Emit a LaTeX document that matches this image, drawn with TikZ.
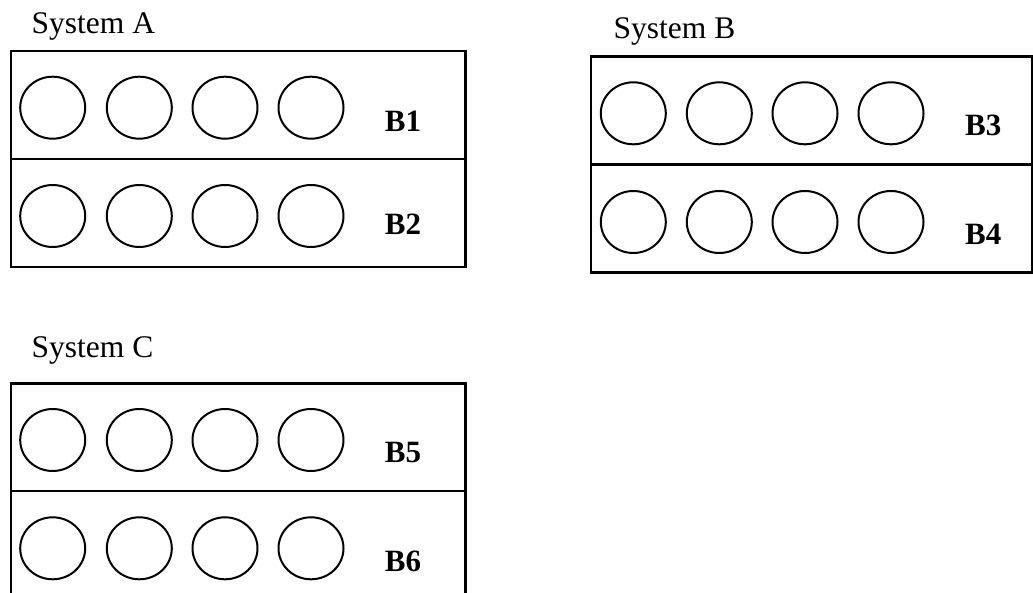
\documentclass[tikz,border=0pt]{standalone}
\usepackage{fontspec}
\setmainfont{Liberation Serif}
\usetikzlibrary{shapes.geometric}
\begin{document}
\begin{tikzpicture}[x=1pt,y=-1pt,
  frame/.style={draw=black,line width=2.3pt},
  slot/.style={ellipse,draw=black,line width=2pt,minimum width=65pt,minimum height=62pt,inner sep=0pt},
  title/.style={anchor=base west,inner sep=0pt,font=\fontsize{31.5}{36}\selectfont},
  blabel/.style={anchor=base,inner sep=0pt,font=\fontsize{31}{36}\selectfont\bfseries}]
\useasboundingbox (0,0) rectangle (1033,593);
% titles
\node[title] (tA) at (31.5,33.3) {System A};
\node[title] (tB) at (613.5,39) {System B};
\node[title] (tC) at (31.5,358) {System C};
% frames
\draw[frame] (11,51) rectangle (465.5,267);
\draw[frame] (11,159) -- (465.5,159);
\draw[frame] (591,56.5) rectangle (1031.8,272.5);
\draw[frame] (591,164.5) -- (1031.8,164.5);
\draw[frame] (11,383.5) rectangle (465.5,610);
\draw[frame] (11,491) -- (465.5,491);
% slots
\foreach \x [count=\i] in {52.7,139.3,225,311}{
  \node[slot] (a1\i) at (\x,107.7) {};
  \node[slot] (a2\i) at (\x,216) {};
  \node[slot] (c1\i) at (\x,440) {};
  \node[slot] (c2\i) at (\x,548.3) {};
}
\foreach \x [count=\i] in {633.3,719.3,805,891}{
  \node[slot] (b1\i) at (\x,113.3) {};
  \node[slot] (b2\i) at (\x,222) {};
}
% labels
\node[blabel] (l1) at (403,131.7) {B1};
\node[blabel] (l2) at (403,235) {B2};
\node[blabel] (l3) at (983.3,136) {B3};
\node[blabel] (l4) at (983.3,245) {B4};
\node[blabel] (l5) at (403,462.7) {B5};
\node[blabel] (l6) at (403,571) {B6};
\end{tikzpicture}
\end{document}
